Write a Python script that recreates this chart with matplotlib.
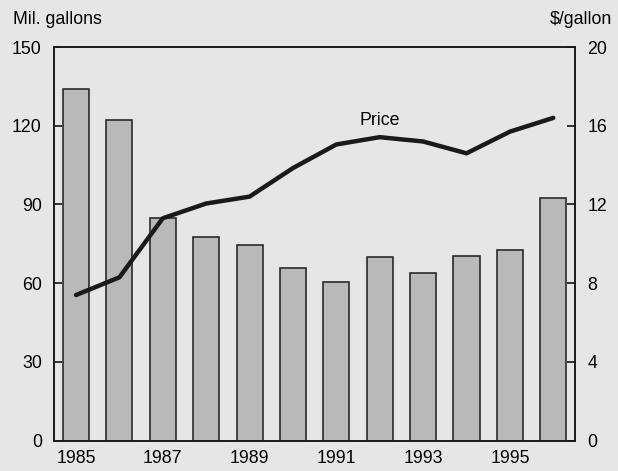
import matplotlib
matplotlib.use("Agg")
import matplotlib.pyplot as plt
import numpy as np

years = [1985, 1986, 1987, 1988, 1989, 1990, 1991, 1992, 1993, 1994, 1995, 1996]
gallons = [134, 122, 85, 77.7, 74.7, 65.7, 60.5, 70, 64, 70.5, 72.8, 92.6]
price = [7.4, 8.3, 11.3, 12.05, 12.4, 13.85, 15.05, 15.42, 15.2, 14.6, 15.7, 16.4]
xtick_labels = ["1985", "1987", "1989", "1991", "1993", "1995"]
left_ticks = [0, 30, 60, 90, 120, 150]
right_ticks = [0, 4, 8, 12, 16, 20]

plt.rcParams['font.family'] = ['Liberation Sans', 'DejaVu Sans']
bg = '#e6e6e6'
fs = 12.8
fig = plt.figure(figsize=(6.18, 4.71), dpi=100, facecolor=bg)
ax = fig.add_axes([0.0879, 0.0643, 0.9304 - 0.0879, 0.9002 - 0.0643])
ax.set_facecolor(bg)

x = np.arange(len(years))
ax.bar(x, gallons, width=0.6, color='#b9b9b9', edgecolor='#2a2a2a', linewidth=1.2, zorder=2)
ax.set_xlim(-0.5, len(years) - 0.5)
ax.set_ylim(0, 150)
ax.set_yticks(left_ticks)
ax.set_xticks([i for i, y in enumerate(years) if str(y) in xtick_labels])
ax.set_xticklabels(xtick_labels)
ax.tick_params(axis='x', length=0, pad=7, labelsize=fs)
ax.tick_params(axis='y', direction='in', length=6, width=1.1, pad=9, labelsize=fs)

ax2 = ax.twinx()
ax2.plot(x, price, color='#1a1a1a', linewidth=3.2, solid_capstyle='round', zorder=3)
ax2.set_ylim(0, 20)
ax2.set_yticks(right_ticks)
ax2.tick_params(axis='y', direction='in', length=6, width=1.1, pad=9, labelsize=fs)
ax2.text(7, 16.25, "Price", ha='center', va='center', fontsize=fs)

for a in (ax, ax2):
    for s in a.spines.values():
        s.set_linewidth(1.2)
        s.set_color('#1a1a1a')

fig.text(0.021, 1 - 24 / 471, "Mil. gallons", ha='left', va='baseline', fontsize=fs)
fig.text(0.991, 1 - 24 / 471, "$/gallon", ha='right', va='baseline', fontsize=fs)

fig.savefig("out.png", dpi=100, facecolor=bg)
